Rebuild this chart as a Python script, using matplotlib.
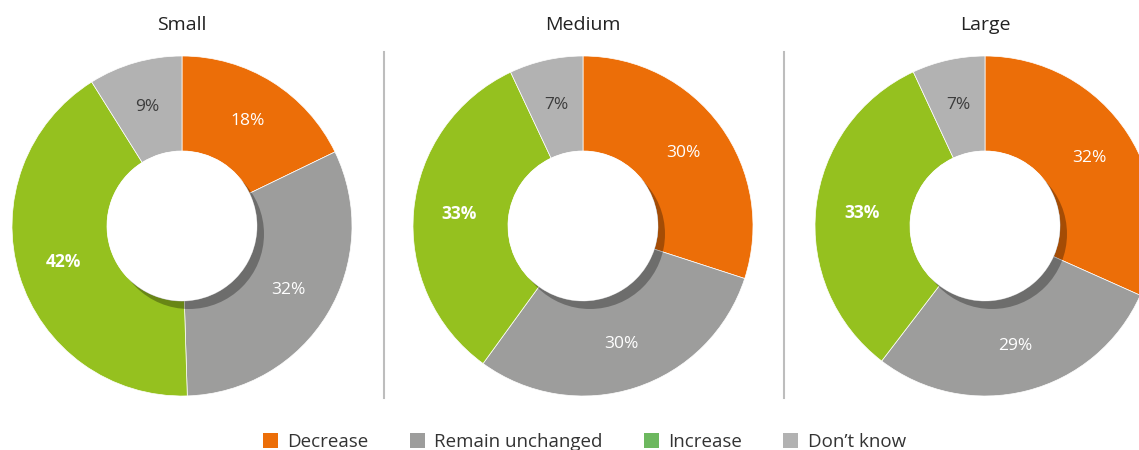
import matplotlib
matplotlib.use("Agg")
import matplotlib.pyplot as plt
from matplotlib.patches import Circle, Patch

plt.rcParams['font.family'] = ['Open Sans', 'DejaVu Sans']

titles = ["Small", "Medium", "Large"]
categories = ["Decrease", "Remain unchanged", "Increase", "Don\u2019t know"]
small = [18, 32, 42, 9]
medium = [30, 30, 33, 7]
large = [32, 29, 33, 7]
series = [small, medium, large]

colors = ["#EC6E08", "#9D9D9C", "#95C11F", "#B2B2B2"]
legend_colors = ["#EC6E08", "#9D9D9C", "#6DB85F", "#B2B2B2"]
label_colors = ["white", "white", "white", "#3C3C3C"]
label_weight = ["normal", "normal", "bold", "normal"]

centers_x = [182, 583, 985]
cy = 224
R = 170
r_in = 75

fig = plt.figure(figsize=(11.39, 4.5), dpi=100)
ax = fig.add_axes([0, 0, 1, 1])

for title, vals, cx in zip(titles, series, centers_x):
    wedges, texts = ax.pie(vals, colors=colors, startangle=90, counterclock=False,
                           center=(cx, cy), radius=R, labels=[f"{v}%" for v in vals],
                           labeldistance=0.73, frame=True,
                           wedgeprops=dict(width=R - r_in, linewidth=0.5, edgecolor='white'))
    for t, c, w in zip(texts, label_colors, label_weight):
        t.set_color(c)
        t.set_fontsize(12.5)
        t.set_fontweight(w)
        t.set_ha('center')
        t.set_va('center')
    # shadow inside the hole
    ax.add_patch(Circle((cx + 7, cy - 8), r_in, color='black', alpha=0.3, lw=0, zorder=3))
    ax.add_patch(Circle((cx, cy), r_in, color='white', lw=0, zorder=4))
    ax.text(cx, 425, title, ha='center', va='center', fontsize=14, color='#222222')

ax.set_xlim(0, 1139)
ax.set_ylim(0, 450)
ax.set_aspect('equal')
ax.axis('off')

for x in [384, 784]:
    ax.plot([x, x], [52, 398], color='#BDBDBD', lw=1.5)

handles = [Patch(facecolor=c, edgecolor='none') for c in legend_colors]
fig.legend(handles, categories, loc='lower center', bbox_to_anchor=(0.513, -0.04), ncol=4,
           frameon=False, fontsize=13.5, handlelength=0.8, handleheight=0.8,
           columnspacing=2.2, handletextpad=0.5, labelcolor='#333333')

plt.savefig("out.png", dpi=100)
